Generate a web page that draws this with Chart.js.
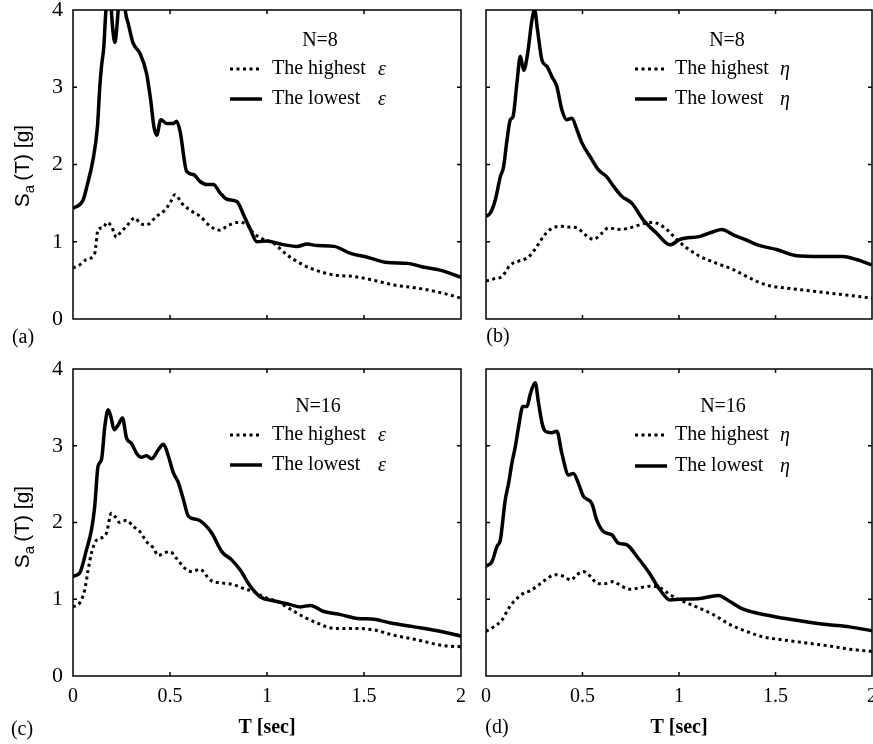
<!DOCTYPE html>
<html>
<head>
<meta charset="utf-8">
<script src="https://cdn.jsdelivr.net/npm/chart.js@4"></script>
<style>
  html, body { margin: 0; padding: 0; background: #fff; }
  body { width: 873px; height: 744px; overflow: hidden; position: relative; }
  canvas { position: absolute; }
  #ca { left: 0; top: -10px; }
  #cb { left: 475px; top: -10px; }
  #cc { left: 0; top: 350px; }
  #cd { left: 475px; top: 350px; }
</style>
</head>
<body>
<canvas id="ca" width="470" height="370"></canvas>
<canvas id="cb" width="410" height="370"></canvas>
<canvas id="cc" width="470" height="394"></canvas>
<canvas id="cd" width="410" height="394"></canvas>
<script>
const d = document;

// tick values / labels
const xTicks = [0, 0.5, 1, 1.5, 2];
const xTickLabels = ['0', '0.5', '1', '1.5', '2'];
const yTicks = [0, 1, 2, 3, 4];
const yTickLabels = ['0', '1', '2', '3', '4'];

// [T (sec), Sa (g)]
// (a) N=8, epsilon
const aHigh = [[0,0.66],[0.034,0.70],[0.069,0.77],[0.112,0.85],[0.129,1.16],[0.155,1.18],[0.176,1.25],[0.198,1.20],[0.224,1.06],[0.241,1.11],[0.276,1.20],[0.319,1.31],[0.345,1.24],[0.379,1.22],[0.431,1.33],[0.474,1.41],[0.5,1.50],[0.526,1.61],[0.56,1.50],[0.603,1.41],[0.655,1.33],[0.707,1.20],[0.759,1.15],[0.793,1.20],[0.845,1.25],[0.888,1.24],[0.931,1.11],[0.983,1.03],[1.034,0.98],[1.103,0.83],[1.172,0.72],[1.241,0.64],[1.345,0.57],[1.448,0.55],[1.552,0.50],[1.655,0.44],[1.776,0.40],[1.897,0.34],[2,0.27]];
const aLow = [[0,1.43],[0.052,1.54],[0.072,1.72],[0.103,2.06],[0.126,2.49],[0.138,3.0],[0.147,3.27],[0.159,3.53],[0.166,3.85],[0.172,4.1],[0.185,4.5],[0.195,4.1],[0.205,3.75],[0.216,3.58],[0.226,3.78],[0.236,4.1],[0.25,4.4],[0.262,4.2],[0.272,3.95],[0.284,3.83],[0.31,3.57],[0.345,3.44],[0.379,3.18],[0.4,2.84],[0.417,2.49],[0.431,2.38],[0.453,2.58],[0.483,2.53],[0.517,2.53],[0.534,2.56],[0.552,2.43],[0.586,1.91],[0.621,1.87],[0.655,1.78],[0.69,1.74],[0.724,1.74],[0.759,1.63],[0.793,1.55],[0.845,1.52],[0.879,1.35],[0.914,1.16],[0.948,1.00],[1.0,1.01],[1.069,0.97],[1.155,0.94],[1.207,0.97],[1.259,0.95],[1.345,0.94],[1.431,0.85],[1.517,0.80],[1.621,0.73],[1.724,0.72],[1.793,0.68],[1.897,0.63],[2,0.54]];

// (b) N=8, eta
const bHigh = [[0,0.49],[0.04,0.52],[0.083,0.55],[0.126,0.70],[0.169,0.75],[0.212,0.79],[0.238,0.85],[0.264,0.94],[0.298,1.07],[0.333,1.16],[0.384,1.20],[0.428,1.19],[0.471,1.18],[0.514,1.09],[0.557,1.03],[0.6,1.11],[0.634,1.18],[0.686,1.16],[0.729,1.17],[0.798,1.22],[0.85,1.25],[0.884,1.24],[0.936,1.16],[0.988,1.03],[1.04,0.92],[1.109,0.81],[1.195,0.72],[1.281,0.64],[1.367,0.53],[1.453,0.44],[1.557,0.40],[1.66,0.37],[1.764,0.34],[1.867,0.31],[2,0.27]];
const bLow = [[0,1.33],[0.022,1.37],[0.048,1.54],[0.074,1.84],[0.091,1.97],[0.109,2.32],[0.126,2.58],[0.14,2.62],[0.16,3.05],[0.178,3.40],[0.195,3.22],[0.216,3.44],[0.238,3.87],[0.252,4.0],[0.267,3.74],[0.29,3.35],[0.316,3.27],[0.341,3.14],[0.367,3.01],[0.393,2.71],[0.419,2.58],[0.445,2.60],[0.471,2.45],[0.497,2.28],[0.54,2.10],[0.583,1.93],[0.626,1.84],[0.66,1.72],[0.703,1.59],[0.755,1.50],[0.816,1.28],[0.884,1.11],[0.953,0.96],[1.005,1.03],[1.109,1.07],[1.178,1.13],[1.221,1.16],[1.281,1.09],[1.35,1.02],[1.419,0.95],[1.505,0.90],[1.609,0.82],[1.729,0.81],[1.85,0.81],[1.919,0.77],[2,0.70]];

// (c) N=16, epsilon
const cHigh = [[0,0.90],[0.034,0.95],[0.06,1.12],[0.078,1.38],[0.095,1.60],[0.121,1.77],[0.147,1.80],[0.172,1.86],[0.198,2.12],[0.216,2.08],[0.241,2.00],[0.276,2.03],[0.31,1.95],[0.345,1.88],[0.379,1.75],[0.414,1.67],[0.44,1.57],[0.466,1.60],[0.5,1.62],[0.534,1.53],[0.578,1.40],[0.612,1.36],[0.655,1.39],[0.707,1.25],[0.776,1.21],[0.828,1.19],[0.879,1.14],[0.931,1.10],[0.983,1.03],[1.052,0.97],[1.121,0.87],[1.19,0.77],[1.259,0.69],[1.345,0.62],[1.448,0.62],[1.552,0.60],[1.655,0.53],[1.776,0.47],[1.897,0.40],[2,0.38]];
const cLow = [[0,1.30],[0.034,1.34],[0.069,1.64],[0.095,1.90],[0.112,2.21],[0.129,2.73],[0.147,2.82],[0.164,3.25],[0.181,3.47],[0.195,3.38],[0.212,3.21],[0.233,3.27],[0.255,3.36],[0.276,3.10],[0.302,3.03],[0.328,2.90],[0.353,2.85],[0.379,2.87],[0.405,2.83],[0.44,2.95],[0.466,3.02],[0.491,2.87],[0.517,2.65],[0.543,2.52],[0.569,2.30],[0.595,2.08],[0.638,2.04],[0.672,1.99],[0.716,1.86],[0.767,1.62],[0.819,1.51],[0.862,1.38],[0.914,1.17],[0.966,1.03],[1.034,0.98],[1.121,0.93],[1.172,0.90],[1.224,0.92],[1.293,0.84],[1.379,0.80],[1.466,0.75],[1.552,0.74],[1.638,0.69],[1.759,0.64],[1.897,0.58],[2,0.52]];

// (d) N=16, eta
const dHigh = [[0,0.58],[0.04,0.64],[0.083,0.73],[0.117,0.88],[0.152,0.99],[0.195,1.08],[0.229,1.11],[0.264,1.17],[0.307,1.25],[0.359,1.32],[0.402,1.30],[0.44,1.25],[0.471,1.32],[0.505,1.36],[0.54,1.30],[0.574,1.21],[0.609,1.20],[0.66,1.23],[0.703,1.17],[0.747,1.13],[0.798,1.15],[0.85,1.17],[0.902,1.15],[0.953,1.06],[1.005,0.99],[1.091,0.90],[1.178,0.80],[1.264,0.67],[1.35,0.58],[1.436,0.51],[1.54,0.47],[1.66,0.43],[1.781,0.39],[1.884,0.35],[2,0.32]];
const dLow = [[0,1.43],[0.031,1.49],[0.057,1.69],[0.074,1.77],[0.1,2.30],[0.117,2.51],[0.134,2.77],[0.152,2.99],[0.169,3.25],[0.191,3.51],[0.212,3.51],[0.229,3.67],[0.255,3.82],[0.272,3.56],[0.29,3.30],[0.307,3.19],[0.341,3.17],[0.367,3.19],[0.393,2.90],[0.428,2.62],[0.453,2.64],[0.479,2.51],[0.505,2.34],[0.548,2.25],[0.574,2.03],[0.609,1.88],[0.652,1.84],[0.686,1.73],[0.729,1.71],[0.781,1.56],[0.841,1.36],[0.902,1.12],[0.953,0.99],[1.005,1.00],[1.109,1.01],[1.203,1.05],[1.264,0.97],[1.333,0.87],[1.402,0.82],[1.505,0.77],[1.626,0.72],[1.764,0.67],[1.884,0.64],[2,0.59]];

const serif = '"Liberation Serif", "Times New Roman", serif';
const toXY = arr => arr.map(p => ({ x: p[0], y: p[1] }));

// frame, inward ticks, legend, panel letter, y title
const panelDeco = {
  id: 'panelDeco',
  afterDraw(chart, args, o) {
    const ctx = chart.ctx, a = chart.chartArea;
    const sx = chart.scales.x, sy = chart.scales.y;
    const seg = (x1, y1, x2, y2) => { ctx.beginPath(); ctx.moveTo(x1, y1); ctx.lineTo(x2, y2); ctx.stroke(); };
    ctx.save();
    ctx.strokeStyle = '#000';
    ctx.lineWidth = 1.5;
    ctx.strokeRect(a.left, a.top, a.right - a.left, a.bottom - a.top);
    xTicks.slice(1, -1).forEach(v => {
      const x = sx.getPixelForValue(v);
      seg(x, a.bottom, x, a.bottom - 4);
      seg(x, a.top, x, a.top + 4);
    });
    yTicks.slice(1, -1).forEach(v => {
      const y = sy.getPixelForValue(v);
      seg(a.left, y, a.left + 4, y);
      seg(a.right, y, a.right - 4, y);
    });

    // legend
    ctx.fillStyle = '#000';
    ctx.font = '20px ' + serif;
    ctx.textBaseline = 'middle';
    ctx.textAlign = 'center';
    ctx.fillText(o.head, a.left + o.nx, a.top + o.ny);
    ctx.textAlign = 'left';
    const rows = [[o.r1, 'The highest', true], [o.r2, 'The lowest', false]];
    rows.forEach(([ry, txt, dotted]) => {
      const y = a.top + ry;
      ctx.lineWidth = dotted ? 3 : 3.5;
      ctx.setLineDash(dotted ? [3, 3.5] : []);
      seg(a.left + o.s1, y, a.left + o.s2, y);
      ctx.setLineDash([]);
      ctx.font = '20px ' + serif;
      ctx.fillText(txt, a.left + o.tx, y);
      ctx.font = 'italic 20px ' + serif;
      ctx.fillText(o.sym, a.left + o.gx, y + 1);
    });

    // panel letter
    ctx.font = '20px ' + serif;
    ctx.textAlign = 'center';
    ctx.fillText(o.tag, o.tagX, o.tagY);

    // y axis title S_a(T) [g]
    if (o.yTitle) {
      ctx.translate(o.ytX, o.ytY);
      ctx.rotate(-Math.PI / 2);
      ctx.textAlign = 'left';
      const big = '21px "Liberation Sans", Arial, sans-serif';
      const small = '15px "Liberation Sans", Arial, sans-serif';
      ctx.font = big;
      const wS = ctx.measureText('S').width, wR = ctx.measureText('(T) [g]').width;
      ctx.font = small;
      const wa = ctx.measureText('a').width + 4;
      let x = -(wS + wa + wR) / 2;
      ctx.font = big;
      ctx.fillText('S', x, 0);
      x += wS;
      ctx.font = small;
      ctx.fillText('a', x, 7);
      x += wa;
      ctx.font = big;
      ctx.fillText('(T) [g]', x, 0);
    }
    ctx.restore();
  }
};

function panel(id, low, high, p) {
  return new Chart(d.getElementById(id), {
    type: 'line',
    data: {
      datasets: [
        { label: 'The lowest', data: toXY(low), borderColor: '#000', borderWidth: 3.5,
          pointRadius: 0, cubicInterpolationMode: 'monotone' },
        { label: 'The highest', data: toXY(high), borderColor: '#000', borderWidth: 3,
          borderDash: [3, 3.5], pointRadius: 0, cubicInterpolationMode: 'monotone' }
      ]
    },
    options: {
      responsive: false,
      animation: false,
      layout: { padding: { top: p.top, right: p.right, left: 0, bottom: 0 } },
      plugins: { legend: { display: false }, tooltip: { enabled: false }, panelDeco: p },
      scales: {
        x: {
          type: 'linear', min: 0, max: 2,
          afterBuildTicks: s => { s.ticks = xTicks.map(v => ({ value: v })); },
          afterFit: s => { s.height = p.xh; s.paddingLeft = 0; s.paddingRight = 0; },
          ticks: { display: p.xLabels, padding: 9, color: '#000', maxRotation: 0,
                   font: { family: serif, size: 20 }, callback: (v, i) => xTickLabels[i] },
          grid: { display: false, drawTicks: false },
          border: { display: false },
          title: { display: p.xLabels, text: 'T [sec]', color: '#000',
                   font: { family: serif, size: 20, weight: 'bold' }, padding: { top: 0, bottom: 4 } }
        },
        y: {
          min: 0, max: 4,
          afterBuildTicks: s => { s.ticks = yTicks.map(v => ({ value: v })); },
          afterFit: s => { s.width = p.yw; s.paddingTop = 0; s.paddingBottom = 0; },
          ticks: { display: p.yLabels, padding: 10, color: '#000',
                   font: { family: serif, size: 22 }, callback: (v, i) => yTickLabels[i] },
          grid: { display: false, drawTicks: false },
          border: { display: false }
        }
      }
    },
    plugins: [panelDeco]
  });
}

panel('ca', aLow, aHigh, {
  top: 20, right: 9, xh: 41, yw: 73, xLabels: false, yLabels: true,
  head: 'N=8', sym: 'ε', nx: 247, ny: 31, r1: 59, r2: 89, s1: 157, s2: 189, tx: 199, gx: 305,
  tag: '(a)', tagX: 23, tagY: 348, yTitle: true, ytX: 23, ytY: 176
});
panel('cb', bLow, bHigh, {
  top: 20, right: 13, xh: 41, yw: 11, xLabels: false, yLabels: false,
  head: 'N=8', sym: 'η', nx: 241, ny: 31, r1: 59, r2: 89, s1: 149, s2: 181, tx: 189, gx: 294,
  tag: '(b)', tagX: 23, tagY: 347, yTitle: false
});
panel('cc', cLow, cHigh, {
  top: 19, right: 9, xh: 68, yw: 73, xLabels: true, yLabels: true,
  head: 'N=16', sym: 'ε', nx: 245, ny: 38, r1: 66, r2: 96, s1: 157, s2: 189, tx: 199, gx: 305,
  tag: '(c)', tagX: 22, tagY: 380, yTitle: true, ytX: 23, ytY: 177
});
panel('cd', dLow, dHigh, {
  top: 19, right: 13, xh: 68, yw: 11, xLabels: true, yLabels: false,
  head: 'N=16', sym: 'η', nx: 237, ny: 38, r1: 66, r2: 97, s1: 149, s2: 181, tx: 189, gx: 294,
  tag: '(d)', tagX: 22, tagY: 378, yTitle: false
});
</script>
</body>
</html>
